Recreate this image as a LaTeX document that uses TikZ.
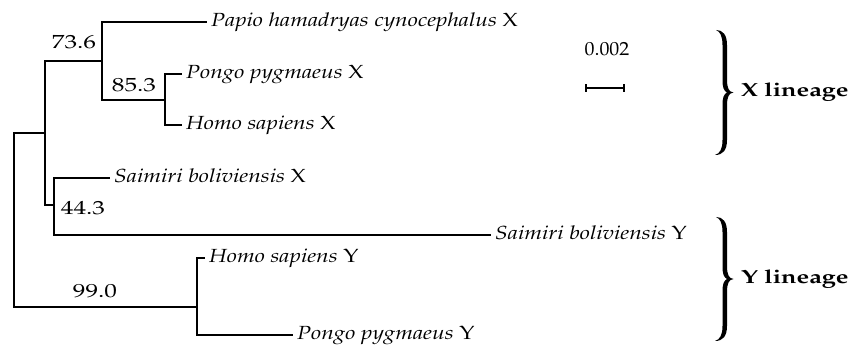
\documentclass[tikz,border=0pt]{standalone}
\usepackage[T1]{fontenc}
\usepackage{mathpazo}
\usepackage{graphicx}
\newcommand\wide[1]{\scalebox{1.33}[1]{#1}}
\newcommand\leafw[1]{\scalebox{1.2}[1]{#1}}
\newcommand\drawbrace[3]{%
  \pgfmathsetmacro\bx{#1}%
  \pgfmathsetmacro\bt{#2}%
  \pgfmathsetmacro\bb{#3}%
  \pgfmathsetmacro\bm{(#2+#3)/2}%
  \fill (\bx,\bt) .. controls (\bx+7,\bt) and (\bx+11,\bt+5) .. (\bx+11,\bt+15)
    -- (\bx+11,\bm-13) .. controls (\bx+11,\bm-4) and (\bx+13,\bm-0.5) .. (\bx+17.5,\bm)
    .. controls (\bx+13,\bm+0.5) and (\bx+11,\bm+4) .. (\bx+11,\bm+13)
    -- (\bx+11,\bb-15) .. controls (\bx+11,\bb-5) and (\bx+7,\bb) .. (\bx-1,\bb)
    .. controls (\bx+4,\bb-1.5) and (\bx+6.5,\bb-6) .. (\bx+6.5,\bb-15)
    -- (\bx+6.5,\bm+12) .. controls (\bx+6.5,\bm+5) and (\bx+8,\bm+1.5) .. (\bx+11,\bm)
    .. controls (\bx+8,\bm-1.5) and (\bx+6.5,\bm-5) .. (\bx+6.5,\bm-12)
    -- (\bx+6.5,\bt+15) .. controls (\bx+6.5,\bt+6) and (\bx+4,\bt+1.5) .. (\bx,\bt) -- cycle;}
\begin{document}
\begin{tikzpicture}[x=1pt,y=-1pt,
  br/.style={line width=1.6pt},
  leaf/.style={anchor=west,font=\fontsize{19}{22}\selectfont\itshape,text height=14pt,text depth=4pt,inner ysep=0pt,inner xsep=4pt},
  boot/.style={font=\fontsize{19}{22}\selectfont,inner sep=0pt},
  lin/.style={anchor=west,font=\fontsize{19}{22}\selectfont\bfseries,inner sep=0pt}]
\useasboundingbox (0,0) rectangle (855,347);
% internal nodes
\coordinate (R) at (14,220);
\coordinate (A) at (45,133);
\coordinate (B) at (102,61);
\coordinate (C) at (165,100);
\coordinate (E) at (54,205);
\coordinate (D) at (197,307);
% leaves
\node[leaf] (papio) at (207,22) {\leafw{Papio hamadryas cynocephalus \upshape X}};
\node[leaf] (pongoX) at (182,74) {\leafw{Pongo pygmaeus \upshape X}};
\node[leaf] (homoX) at (182,125) {\leafw{Homo sapiens \upshape X}};
\node[leaf] (saiX) at (110,178) {\leafw{Saimiri boliviensis \upshape X}};
\node[leaf] (saiY) at (491,235) {\leafw{Saimiri boliviensis \upshape Y}};
\node[leaf] (homoY) at (205,258) {\leafw{Homo sapiens \upshape Y}};
\node[leaf] (pongoY) at (293,335) {\leafw{Pongo pygmaeus \upshape Y}};
% branches
\draw[br] (R) |- (A);
\draw[br] (R) |- (D);
\draw[br] (A) |- (B);
\draw[br] (A) |- (E);
\draw[br] (B) |- (papio.west);
\draw[br] (B) |- (C);
\draw[br] (C) |- (pongoX.west);
\draw[br] (C) |- (homoX.west);
\draw[br] (E) |- (saiX.west);
\draw[br] (E) |- (saiY.west);
\draw[br] (D) |- (homoY.west);
\draw[br] (D) |- (pongoY.west);
% bootstrap values
\node[boot] (b736) at (74,42) {\wide{73.6}};
\node[boot] (b853) at (134,85) {\wide{85.3}};
\node[boot] (b443) at (83,208) {\wide{44.3}};
\node[boot] (b990) at (95,291) {\wide{99.0}};
% scale bar
\node[boot] (scl) at (607,49) {\scalebox{1.05}[1]{0.002}};
\coordinate (s1) at (586,88);
\coordinate (s2) at (624,88);
\draw[br] (s1) -- (s2);
\draw[br] ([yshift=-4pt]s1) -- ([yshift=4pt]s1);
\draw[br] ([yshift=-4pt]s2) -- ([yshift=4pt]s2);
% braces
\drawbrace{716}{30}{155}
\drawbrace{716}{217}{341}
\node[lin] (linX) at (741,92) {\wide{X lineage}};
\node[lin] (linY) at (741,279) {\wide{Y lineage}};
\end{tikzpicture}
\end{document}
